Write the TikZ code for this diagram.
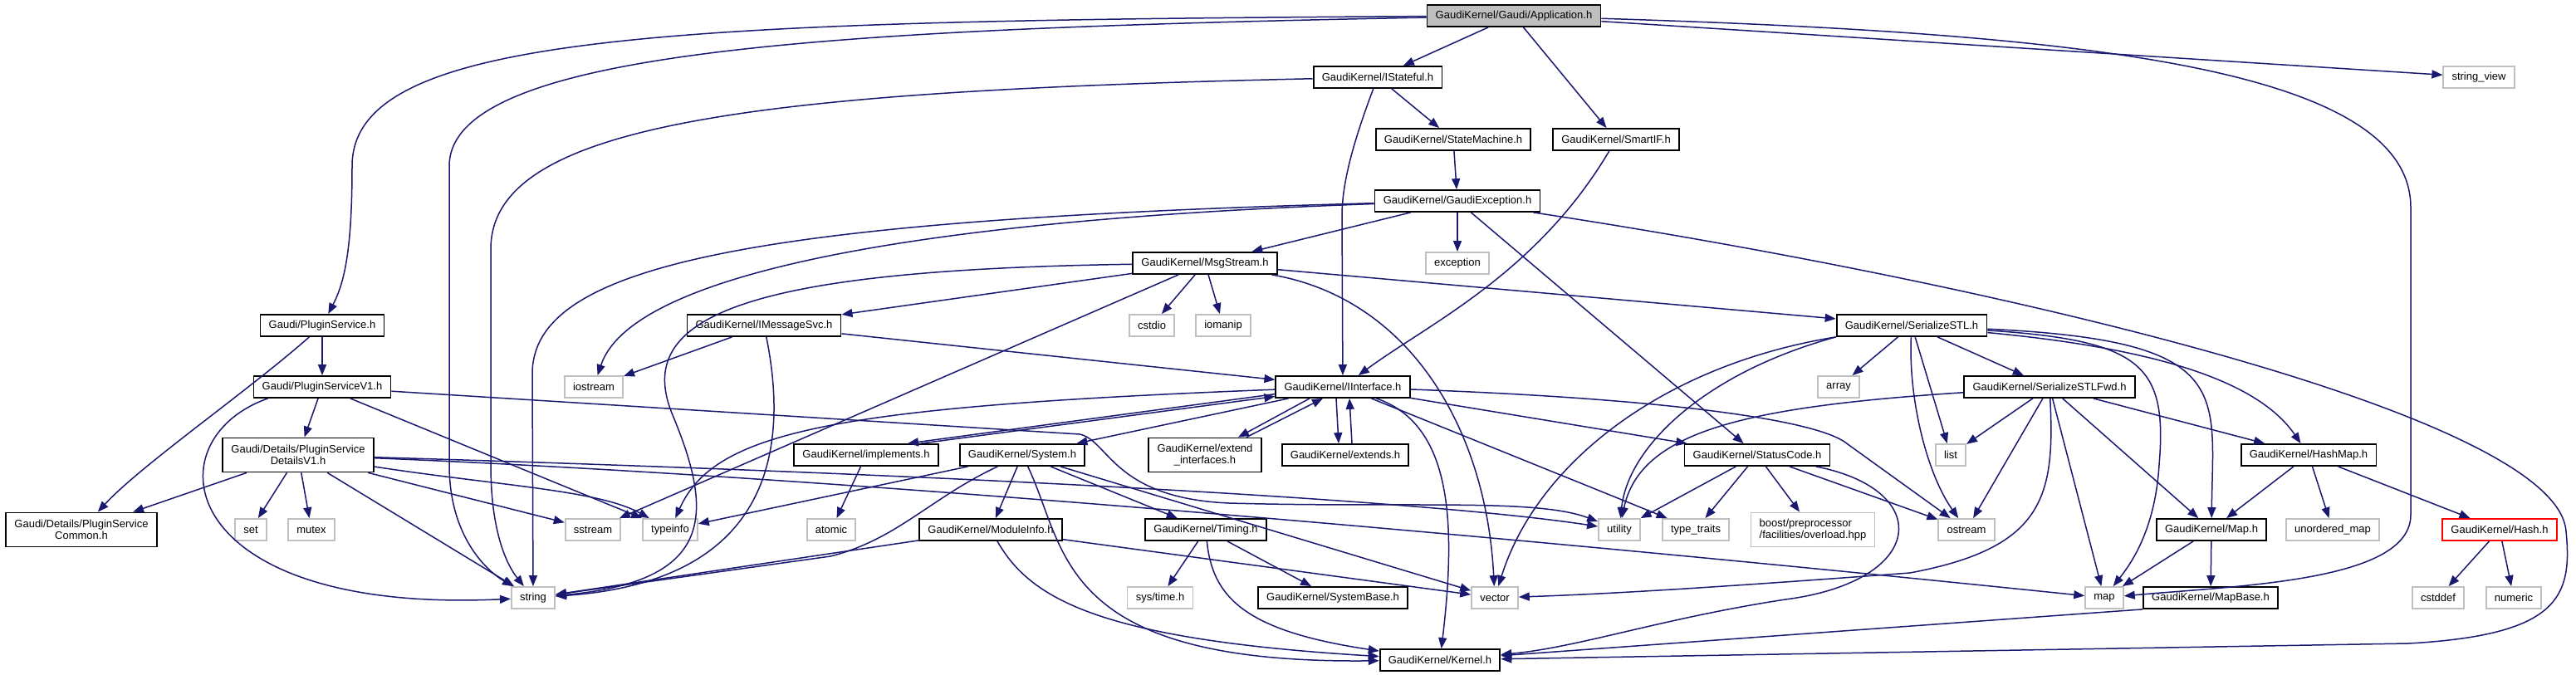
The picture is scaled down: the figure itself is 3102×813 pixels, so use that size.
\documentclass[tikz,border=0pt]{standalone}
\usepackage{fontspec}
\setmainfont{Liberation Sans}
\usetikzlibrary{arrows.meta}
\definecolor{azulnoche}{HTML}{191970}
\definecolor{grisclaro}{HTML}{BFBFBF}

\begin{document}
\begin{tikzpicture}[>={Triangle[length=6.5pt,width=5pt]}, x=0.5pt, y=-0.5pt,
    hdr/.style={draw=black, line width=0.9pt, fill=white, inner xsep=5.1pt, inner ysep=0pt,
      minimum height=13pt, font=\fontsize{6.5}{7}\selectfont},
    syshdr/.style={hdr, draw=grisclaro},
    roothdr/.style={hdr, fill=grisclaro},
    cuthdr/.style={hdr, draw=red},
    dos/.style={minimum height=20.5pt, align=center},
    inc/.style={->, draw=azulnoche, line width=0.75pt}]
    \useasboundingbox (0,0) rectangle (3102,813);

    % Nodos (cabeceras)
    \node[roothdr] (app) at (1823,19) {GaudiKernel/Gaudi/Application.h};
    \node[hdr] (istateful) at (1659,93) {GaudiKernel/IStateful.h};
    \node[syshdr] (sview) at (2985,93) {string\_view};
    \node[hdr] (statemach) at (1750,168) {GaudiKernel/StateMachine.h};
    \node[hdr] (smartif) at (1946,168) {GaudiKernel/SmartIF.h};
    \node[hdr] (gexc) at (1755,242) {GaudiKernel/GaudiException.h};
    \node[hdr] (msgstream) at (1451,317) {GaudiKernel/MsgStream.h};
    \node[syshdr] (exception) at (1755,317) {exception};
    \node[hdr] (psvc) at (388,392) {Gaudi/PluginService.h};
    \node[hdr] (imsgsvc) at (920,392) {GaudiKernel/IMessageSvc.h};
    \node[syshdr] (cstdio) at (1387,392) {cstdio};
    \node[syshdr] (iomanip) at (1473,392) {iomanip};
    \node[hdr] (sstl) at (2302,392) {GaudiKernel/SerializeSTL.h};
    \node[hdr] (psvcv1) at (388,466) {Gaudi/PluginServiceV1.h};
    \node[syshdr] (iostream) at (715,466) {iostream};
    \node[hdr] (iiface) at (1617,466) {GaudiKernel/IInterface.h};
    \node[syshdr] (array) at (2214,466) {array};
    \node[hdr] (sstlfwd) at (2468,466) {GaudiKernel/SerializeSTLFwd.h};
    \node[hdr, dos] (detv1) at (359,548) {Gaudi/Details/PluginService\\DetailsV1.h};
    \node[hdr] (implements) at (1043,548) {GaudiKernel/implements.h};
    \node[hdr] (system) at (1231,548) {GaudiKernel/System.h};
    \node[hdr, dos] (extendif) at (1451,548) {GaudiKernel/extend\\\_interfaces.h};
    \node[hdr] (extends) at (1620,548) {GaudiKernel/extends.h};
    \node[hdr] (statuscode) at (2116,548) {GaudiKernel/StatusCode.h};
    \node[syshdr] (list) at (2349,548) {list};
    \node[hdr] (hashmap) at (2780,548) {GaudiKernel/HashMap.h};
    \node[hdr, dos] (common) at (98,638) {Gaudi/Details/PluginService\\Common.h};
    \node[syshdr] (set) at (302,638) {set};
    \node[syshdr] (mutex) at (375,638) {mutex};
    \node[syshdr] (sstream) at (714,638) {sstream};
    \node[syshdr] (typeinfo) at (807,638) {typeinfo};
    \node[syshdr] (atomic) at (1001,638) {atomic};
    \node[hdr] (moduleinfo) at (1193,638) {GaudiKernel/ModuleInfo.h};
    \node[hdr] (timing) at (1452,638) {GaudiKernel/Timing.h};
    \node[syshdr] (utility) at (1950,638) {utility};
    \node[syshdr] (typetraits) at (2042,638) {type\_traits};
    \node[syshdr, dos, align=left] (boost) at (2183,638) {boost/preprocessor\\/facilities/overload.hpp};
    \node[syshdr] (ostream) at (2368,638) {ostream};
    \node[hdr] (maph) at (2663,638) {GaudiKernel/Map.h};
    \node[syshdr] (umap) at (2809,638) {unordered\_map};
    \node[cuthdr] (hash) at (3010,638) {GaudiKernel/Hash.h};
    \node[syshdr] (string) at (642,720) {string};
    \node[syshdr] (systime) at (1397,720) {sys/time.h};
    \node[hdr] (sysbase) at (1605,720) {GaudiKernel/SystemBase.h};
    \node[syshdr] (vector) at (1800,720) {vector};
    \node[syshdr] (map) at (2534,720) {map};
    \node[hdr] (mapbase) at (2662,720) {GaudiKernel/MapBase.h};
    \node[syshdr] (cstddef) at (2936,720) {cstddef};
    \node[syshdr] (numeric) at (3027,720) {numeric};
    \node[hdr] (kernel) at (1734,795) {GaudiKernel/Kernel.h};

    % Application.h
    \draw[inc] (app) -- (istateful);
    \draw[inc] (app) -- (smartif);
    \draw[inc] (app) .. controls (800,25) and (424,40) .. (424,200) .. controls (424,300) and (415,340) .. (psvc);
    \draw[inc] (app) .. controls (1000,35) and (541,60) .. (541,200) -- (541,560) .. controls (541,650) and (590,690) .. (string);
    \draw[inc] (app) -- (sview);
    \draw[inc] (app) .. controls (2500,40) and (2903,80) .. (2903,250) -- (2903,620) .. controls (2903,700) and (2700,705) .. (map);

    % IStateful.h, StateMachine.h, SmartIF.h
    \draw[inc] (istateful) .. controls (900,110) and (591,150) .. (591,300) -- (591,560) .. controls (591,640) and (610,680) .. (string);
    \draw[inc] (istateful) -- (statemach);
    \draw[inc] (istateful) .. controls (1630,170) and (1616,220) .. (1616,260) -- (iiface);
    \draw[inc] (statemach) -- (gexc);
    \draw[inc] (smartif) .. controls (1850,330) and (1720,390) .. (iiface);

    % GaudiException.h
    \draw[inc] (gexc) -- (msgstream);
    \draw[inc] (gexc) -- (exception);
    \draw[inc] (gexc) -- (statuscode);
    \draw[inc] (gexc) .. controls (1100,265) and (760,330) .. (iostream);
    \draw[inc] (gexc) .. controls (900,265) and (641,320) .. (641,450) -- (string);
    \draw[inc] (gexc) .. controls (2400,340) and (3080,500) .. (3090,640) .. controls (3098,720) and (3080,765) .. (2900,775) -- (kernel);

    % MsgStream.h, IMessageSvc.h
    \draw[inc] (msgstream) .. controls (900,325) and (760,380) .. (810,500) .. controls (860,620) and (860,700) .. (string);
    \draw[inc] (msgstream) -- (imsgsvc);
    \draw[inc] (msgstream) -- (sstream);
    \draw[inc] (msgstream) -- (cstdio);
    \draw[inc] (msgstream) -- (iomanip);
    \draw[inc] (msgstream) .. controls (1700,360) and (1790,520) .. (vector);
    \draw[inc] (msgstream) -- (sstl);
    \draw[inc] (imsgsvc) -- (iostream);
    \draw[inc] (imsgsvc) .. controls (950,540) and (930,700) .. (string);
    \draw[inc] (imsgsvc) -- (iiface);

    % Gaudi/PluginService*.h
    \draw[inc] (psvc) -- (psvcv1);
    \draw[inc] (psvc) .. controls (300,470) and (170,560) .. (common);
    \draw[inc] (psvcv1.192) .. controls (180,530) and (210,740) .. (string);
    \draw[inc] (psvcv1) -- (detv1);
    \draw[inc] (psvcv1) -- (typeinfo);
    \draw[inc] (psvcv1) -- (1300,523) .. controls (1335,530) and (1340,600) .. (1480,606) .. controls (1700,612) and (1850,600) .. (utility);
    \draw[inc] (detv1) -- (common);
    \draw[inc] (detv1) -- (set);
    \draw[inc] (detv1) -- (mutex);
    \draw[inc] (detv1) -- (string);
    \draw[inc] (detv1) -- (sstream);
    \draw[inc] (detv1) .. controls (600,585) and (720,590) .. (typeinfo);
    \draw[inc] (detv1) .. controls (1100,570) and (1700,600) .. (utility);
    \draw[inc] (detv1) .. controls (1100,578) and (2000,665) .. (map);

    % IInterface.h
    \draw[inc] (iiface.186) -- ([xshift=25pt]implements.north);
    \draw[inc] ([xshift=33pt]implements.north) -- (iiface.188);
    \draw[inc] (iiface) -- (system);
    \draw[inc] ([xshift=-20pt]iiface.south) -- ([xshift=20pt]extendif.north);
    \draw[inc] ([xshift=25pt]extendif.north) -- ([xshift=-12pt]iiface.south);
    \draw[inc] ([xshift=-4pt]iiface.south) -- ([xshift=-4pt]extends.north);
    \draw[inc] ([xshift=4pt]extends.north) -- ([xshift=4pt]iiface.south);
    \draw[inc] (iiface) .. controls (1000,490) and (860,520) .. (typeinfo);
    \draw[inc] (iiface) -- (statuscode);
    \draw[inc] (iiface) .. controls (2000,480) and (2190,505) .. (2225,535) -- (ostream);
    \draw[inc] (iiface) -- (typetraits);
    \draw[inc] (iiface) .. controls (1745,510) and (1755,620) .. (kernel);
    \draw[inc] (implements) -- (atomic);

    % System.h, ModuleInfo.h, Timing.h
    \draw[inc] (system) -- (typeinfo);
    \draw[inc] (system) .. controls (1120,600) and (1080,650) .. (1000,670) -- (string);
    \draw[inc] (system) -- (moduleinfo);
    \draw[inc] (system) .. controls (1285,660) and (1270,800) .. (kernel);
    \draw[inc] (system) -- (timing);
    \draw[inc] (system) -- (vector);
    \draw[inc] (moduleinfo) -- (string);
    \draw[inc] (moduleinfo) .. controls (1240,720) and (1320,770) .. (kernel);
    \draw[inc] (moduleinfo) -- (vector);
    \draw[inc] (timing) -- (systime);
    \draw[inc] (timing) -- (sysbase);
    \draw[inc] (timing) .. controls (1460,720) and (1500,760) .. (kernel);

    % StatusCode.h
    \draw[inc] (statuscode) -- (utility);
    \draw[inc] (statuscode) -- (typetraits);
    \draw[inc] (statuscode) -- (boost);
    \draw[inc] (statuscode) -- (ostream);
    \draw[inc] (statuscode) .. controls (2330,590) and (2320,700) .. (2150,722) .. controls (2000,745) and (1900,780) .. (kernel);

    % SerializeSTL.h, SerializeSTLFwd.h
    \draw[inc] (sstl) -- (array);
    \draw[inc] (sstl) -- (sstlfwd);
    \draw[inc] (sstl) -- (list);
    \draw[inc] (sstl) .. controls (2298,480) and (2320,570) .. (ostream);
    \draw[inc] (sstl) .. controls (2580,410) and (2610,440) .. (2600,560) .. controls (2595,640) and (2565,680) .. (map);
    \draw[inc] (sstl) .. controls (2690,410) and (2665,470) .. (maph);
    \draw[inc] (sstl) .. controls (2600,420) and (2720,460) .. (hashmap);
    \draw[inc] (sstl.south west) .. controls (2000,440) and (1850,560) .. (vector);
    \draw[inc] (sstl.south west) .. controls (2050,450) and (1960,540) .. (utility);
    \draw[inc] (sstlfwd) .. controls (2100,490) and (1975,520) .. (utility);
    \draw[inc] (sstlfwd) -- (list);
    \draw[inc] (sstlfwd) -- (ostream);
    \draw[inc] (sstlfwd) .. controls (2475,600) and (2460,660) .. (2300,690) .. controls (2100,705) and (1950,715) .. (vector);
    \draw[inc] (sstlfwd) -- (map);
    \draw[inc] (sstlfwd) -- (maph);
    \draw[inc] (sstlfwd) -- (hashmap);

    % HashMap.h, Map.h, MapBase.h, Hash.h
    \draw[inc] (hashmap) -- (maph);
    \draw[inc] (hashmap) -- (umap);
    \draw[inc] (hashmap) -- (hash);
    \draw[inc] (maph) -- (map);
    \draw[inc] (maph) -- (mapbase);
    \draw[inc] (mapbase.south west) -- (kernel);
    \draw[inc] (hash) -- (cstddef);
    \draw[inc] (hash) -- (numeric);
  \end{tikzpicture}
\end{document}
